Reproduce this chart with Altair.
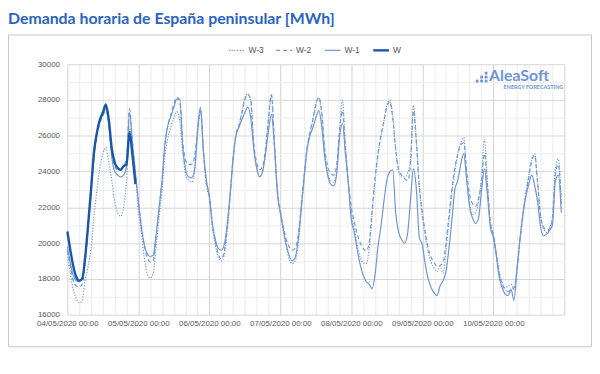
import altair as alt
import pandas as pd

# ---------------- data ----------------
day_labels = ["04/05/2020 00:00", "05/05/2020 00:00", "06/05/2020 00:00",
              "07/05/2020 00:00", "08/05/2020 00:00", "09/05/2020 00:00",
              "10/05/2020 00:00"]
series_names = ["W-3", "W-2", "W-1", "W"]
y_ticks = list(range(16000, 30001, 1000))

w = [20650, 19600, 18700, 18100, 17900, 18000, 19200, 21000, 23000, 25100, 26200, 26900,
     27300, 27750, 26900, 25300, 24500, 24200, 24100, 24300, 24400, 26200, 24900, 23300]

w1 = [
    19800, 18900, 18200, 17900, 17850, 18000, 19100, 20900, 22900, 24900, 26100, 26800,
    27200, 27500, 26600, 24800, 24000, 23800, 23700, 23800, 24300, 27300, 25600, 23900,
    22300, 20900, 19900, 19400, 19250, 19300, 20500, 22000, 23500, 25600, 26600, 27100,
    27600, 28050, 28050, 25400, 24100, 23700, 23650, 24100, 26300, 27600, 25100, 23500,
    22600, 21100, 20200, 19700, 19600, 19900, 21000, 22700, 24700, 26000, 26500, 26900,
    27300, 27600, 27000, 25300, 24200, 23700, 24000, 25000, 26300, 27200, 25400, 22800,
    21700, 20800, 19900, 19300, 19000, 19200, 20100, 21800, 23600, 25200, 26000, 26450,
    27000, 27400, 26500, 24800, 23800, 23300, 23200, 23800, 25900, 26700, 25000, 23300,
    21300, 20600, 19600, 18800, 18200, 17850, 17700, 17450, 18200, 19800, 20900, 22300,
    23500, 24000, 24100, 21700, 20600, 20200, 20000, 20500, 22400, 24150, 23000, 20300,
    19900, 18800, 18000, 17500, 17200, 17070, 17600, 17900, 18400, 19700, 21300, 23000,
    23500, 24400, 25000, 23500, 22000, 21400, 21100, 21400, 22900, 24150, 22700, 20900,
    20300, 19300, 18100, 17500, 17150, 17070, 17400, 16800, 18500, 20200, 21600, 22600,
    23300, 23800, 23200, 22300, 20900, 20400, 20500, 20700, 21000, 23500, 23800, 21700,
]

w2 = [
    19600, 18700, 17900, 17600, 17550, 17700, 18900, 20800, 22800, 24800, 26000, 26700,
    27100, 27400, 26700, 25100, 24300, 24100, 24100, 24300, 24800, 27500, 25700, 23900,
    22400, 21000, 19900, 19200, 18950, 19000, 20300, 21900, 23500, 25500, 26600, 27200,
    27800, 28150, 27900, 25700, 24600, 24400, 24400, 24800, 26300, 27500, 25200, 23400,
    22700, 21100, 20100, 19400, 19100, 19500, 20800, 22600, 24700, 26100, 26600, 27300,
    28000, 28300, 28000, 25600, 24500, 24100, 24300, 25300, 27000, 28300, 25600, 23000,
    21800, 20900, 20200, 19800, 19600, 19700, 20400, 22000, 23700, 25300, 26200, 26900,
    27700, 28150, 27300, 25300, 24300, 23900, 23800, 24300, 26300, 27400, 25300, 23400,
    22000, 21200, 20500, 20000, 19700, 19550, 20000, 21800, 23600, 25000, 26000, 26800,
    27600, 27900, 27000, 25300, 24100, 23800, 23600, 23500, 24400, 27400, 25600, 23100,
    21700, 20600, 19700, 19200, 18900, 18700, 18750, 18900, 20000, 21500, 23000, 24200,
    25000, 25500, 25600, 24000, 22700, 22200, 22050, 22500, 23400, 25000, 23300, 21200,
    20500, 19400, 18300, 17700, 17400, 17300, 17400, 17500, 18500, 20100, 21500, 22700,
    23700, 24600, 24900, 23300, 21500, 20900, 20700, 20800, 21400, 23800, 24400, 22000,
]

w3 = [
    19400, 18300, 17400, 16900, 16650, 16800, 17900, 18700, 19700, 21500, 23000, 24200,
    25000, 25350, 24500, 23500, 22300, 21700, 21500, 22000, 23500, 26500, 25200, 23900,
    21800, 20600, 19200, 18300, 18050, 18300, 19800, 21400, 23000, 24900, 25900, 26500,
    27000, 27350, 26800, 25100, 23800, 23500, 23400, 24000, 25900, 27400, 25000, 23200,
    22500, 20900, 19900, 19200, 19000, 19300, 20600, 22500, 24600, 26000, 26500, 27300,
    28100, 28350, 27900, 25400, 24200, 23700, 24000, 25100, 26900, 28250, 25500, 22900,
    21600, 20700, 19800, 19100, 18850, 19000, 19900, 21700, 23500, 25200, 26100, 26900,
    27800, 28100, 27200, 25100, 24000, 23500, 23400, 24000, 26100, 28000, 25500, 23400,
    21700, 20800, 19900, 19200, 18900, 18850, 19600, 21500, 23400, 24900, 25900, 26800,
    27700, 28000, 27100, 25200, 24000, 23700, 23700, 23900, 24700, 27700, 25700, 23200,
    21500, 20400, 19500, 18900, 18600, 18400, 18700, 18300, 19600, 21200, 22800, 24000,
    25000, 25600, 25900, 23800, 22200, 21600, 21700, 22300, 23600, 25800, 23400, 21100,
    20500, 19500, 18400, 17800, 17500, 17600, 17700, 17400, 18600, 20200, 21600, 22800,
    23800, 24700, 25000, 23400, 21500, 20800, 20600, 20800, 21500, 24200, 24700, 22200,
]

rows = []
for name, vals in zip(series_names, [w3, w2, w1, w]):
    for h, v in enumerate(vals):
        rows.append({"series": name, "hour": h, "value": v})
df = pd.DataFrame(rows)

# ---------------- styling ----------------
LIGHT = "#7096d1"
DARK = "#1b57a9"
LABEL_FONT = "Liberation Sans"
W_PLOT, H_PLOT = 502, 253

label_arr = "[" + ",".join("'" + s + "'" for s in day_labels) + "]"
x_label_expr = ("datum.value % 24 === 0 && datum.value < 168 ? "
                + label_arr + "[datum.value / 24] : ''")

x_enc = alt.X(
    "hour:Q",
    scale=alt.Scale(domain=[0, 168], nice=False, zero=False),
    axis=alt.Axis(
        values=list(range(0, 169, 4)), labelExpr=x_label_expr, title=None,
        grid=True,
        gridColor={"condition": {"test": "datum.value % 24 === 0", "value": "#d2d2d2"},
                   "value": "#ececec"},
        ticks=False, domain=False, labelFont=LABEL_FONT, labelFontSize=8,
        labelColor="#595959", labelPadding=5, labelOverlap=False, labelFlush=False,
    ),
)
y_enc = alt.Y(
    "value:Q",
    scale=alt.Scale(domain=[16000, 30000], nice=False, zero=False),
    axis=alt.Axis(
        values=y_ticks, labelExpr="datum.value % 2000 === 0 ? '' + datum.value : ''",
        title=None, grid=True,
        gridColor={"condition": {"test": "datum.value % 2000 === 0", "value": "#d6d6d6"},
                   "value": "#eeeeee"},
        ticks=False, domain=False, labelFont=LABEL_FONT, labelFontSize=8,
        labelColor="#595959", labelPadding=8,
    ),
)

base = alt.Chart(df).encode(x=x_enc, y=y_enc)

styles = {
    "W-3": dict(color=LIGHT, strokeWidth=1.2, strokeDash=[1.2, 1.6]),
    "W-2": dict(color=LIGHT, strokeWidth=1.2, strokeDash=[4, 3]),
    "W-1": dict(color=LIGHT, strokeWidth=1.2),
    "W": dict(color=DARK, strokeWidth=2.4),
}

line_layers = []
for name in series_names:
    line_layers.append(
        base.transform_filter(alt.datum.series == name)
        .mark_line(interpolate="monotone", **styles[name])
    )

one = pd.DataFrame({"a": [0]})

frame = alt.Chart(one).mark_rect(fill="transparent", stroke="#c6c6c6", strokeWidth=1).encode(
    x=alt.value(-59.5), x2=alt.value(529.5), y=alt.value(-29.5), y2=alt.value(285.5)
)

title = alt.Chart(one).mark_text(
    text="Demanda horaria de España peninsular [MWh]", font="Lato", fontWeight="bold",
    fontSize=16, color="#2a64bf", align="left", baseline="middle",
).encode(x=alt.value(-60), y=alt.value(-46))

# legend (manual)
legend_layers = []
leg_y = -14
leg_items = [
    ("W-3", 163, styles["W-3"]), ("W-2", 211, styles["W-2"]),
    ("W-1", 260, styles["W-1"]), ("W", 309, styles["W"]),
]
for name, x0, st in leg_items:
    rule_kw = dict(color=st["color"], strokeWidth=st["strokeWidth"])
    if "strokeDash" in st:
        rule_kw["strokeDash"] = st["strokeDash"]
    legend_layers.append(
        alt.Chart(one).mark_rule(**rule_kw).encode(
            x=alt.value(x0), x2=alt.value(x0 + 16), y=alt.value(leg_y)
        )
    )
    legend_layers.append(
        alt.Chart(one).mark_text(
            text=name, font=LABEL_FONT, fontSize=8.5, color="#555555",
            align="left", baseline="middle",
        ).encode(x=alt.value(x0 + 20), y=alt.value(leg_y))
    )

# logo
LOGO = "#6f95d6"
logo_layers = [
    alt.Chart(one).mark_text(
        text="AleaSoft", font="Lato", fontWeight="bold", fontSize=16, color=LOGO,
        align="left", baseline="middle",
    ).encode(x=alt.value(426), y=alt.value(12)),
    alt.Chart(one).mark_text(
        text="ENERGY FORECASTING", font="Lato", fontWeight="bold", fontSize=5.5,
        color=LOGO, align="right", baseline="middle",
    ).encode(x=alt.value(501), y=alt.value(23.5)),
]
for dx, dy in [(414, 17), (418.5, 13), (418.5, 17), (423, 9), (423, 13), (423, 17)]:
    logo_layers.append(
        alt.Chart(one).mark_square(size=8, color=LOGO, opacity=1).encode(
            x=alt.value(dx), y=alt.value(dy)
        )
    )

chart = alt.layer(
    frame, *line_layers, title, *legend_layers, *logo_layers
).properties(
    width=W_PLOT, height=H_PLOT,
    autosize=alt.AutoSizeParams(type="none"),
    padding={"left": 60, "top": 55, "right": 28, "bottom": 40},
    background="white",
).configure_view(stroke=None)

chart.save("out.html", embed_options={"renderer": "svg", "actions": False})
